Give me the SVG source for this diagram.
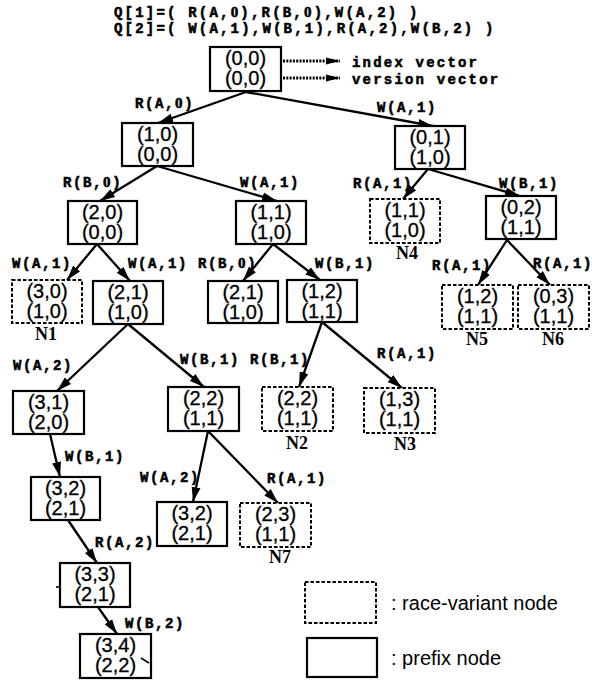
<svg xmlns="http://www.w3.org/2000/svg" width="592" height="681" viewBox="0 0 592 681">
<defs>
<style>
.bg{fill:#fff}
.box{fill:#fff;stroke:#000;stroke-width:2.2}
.rv{fill:#fff;stroke:#000;stroke-width:2;stroke-dasharray:3.5 2}
.nt{font-family:"Liberation Sans",Arial,sans-serif;font-size:20px;fill:#000;stroke:#000;stroke-width:0.3;text-anchor:middle}
.lb{font-family:"Liberation Mono","Courier New",monospace;font-size:14px;font-weight:bold;letter-spacing:1.6px;fill:#000;stroke:#000;stroke-width:0.55}
.q{font-family:"Liberation Mono","Courier New",monospace;font-size:14px;font-weight:bold;letter-spacing:2.2px;fill:#000;stroke:#000;stroke-width:0.55}
.z{font-family:"Liberation Serif","Times New Roman",serif;font-size:15px;font-weight:bold}
.nn{font-family:"Liberation Serif","Times New Roman",serif;font-size:18px;font-weight:bold;fill:#000;text-anchor:middle}
.lg{font-family:"Liberation Sans",Arial,sans-serif;font-size:20px;fill:#000}
.edge{stroke:#000;stroke-width:2.3;fill:none;marker-end:url(#ah)}
.dot{stroke:#000;stroke-width:2.8;fill:none;stroke-dasharray:2 1.3;marker-end:url(#ah2)}
.mark{stroke:#000;stroke-width:1.6;fill:none}
</style>
<marker id="ah" markerUnits="userSpaceOnUse" markerWidth="15" markerHeight="10" viewBox="0 0 15 10" refX="15" refY="5" orient="auto">
<path d="M0,0.5 L15,5 L0,9.5 z" fill="#000"/>
</marker>
<marker id="ah2" markerUnits="userSpaceOnUse" markerWidth="14" markerHeight="8" viewBox="0 0 14 8" refX="14" refY="4" orient="auto">
<path d="M0,0.5 L14,4 L0,7.5 z" fill="#000"/>
</marker>
</defs>
<rect class="bg" x="0" y="0" width="592" height="681"/>

<g id="queues">
<text class="q" x="114" y="17">Q[1]=( R(A,<tspan class="z">0</tspan>),R(B,<tspan class="z">0</tspan>),W(A,2) )</text>
<text class="q" x="114" y="33">Q[2]=( W(A,1),W(B,1),R(A,2),W(B,2) )</text>
</g>

<g id="connectors">
<line class="edge" x1="246" y1="92" x2="158" y2="123"/>
<line class="edge" x1="246" y1="92" x2="433" y2="126"/>
<line class="edge" x1="157" y1="166" x2="100" y2="201"/>
<line class="edge" x1="157" y1="166" x2="277" y2="201"/>
<line class="edge" x1="428" y1="169" x2="403" y2="199"/>
<line class="edge" x1="428" y1="169" x2="520" y2="196"/>
<line class="edge" x1="97" y1="244" x2="67" y2="280"/>
<line class="edge" x1="97" y1="244" x2="130" y2="281"/>
<line class="edge" x1="273" y1="244" x2="243" y2="281"/>
<line class="edge" x1="273" y1="244" x2="320" y2="280"/>
<line class="edge" x1="507" y1="240" x2="478" y2="285"/>
<line class="edge" x1="507" y1="240" x2="550" y2="285"/>
<line class="edge" x1="128" y1="324" x2="57" y2="391"/>
<line class="edge" x1="128" y1="324" x2="204" y2="387"/>
<line class="edge" x1="322" y1="322" x2="299" y2="387"/>
<line class="edge" x1="322" y1="322" x2="402" y2="388"/>
<line class="edge" x1="50" y1="434" x2="60" y2="477"/>
<line class="edge" x1="208" y1="431" x2="193" y2="502"/>
<line class="edge" x1="208" y1="431" x2="278" y2="503"/>
<line class="edge" x1="68" y1="520" x2="97" y2="563"/>
<line class="edge" x1="98" y1="607" x2="117" y2="634"/>
<line class="dot" x1="283" y1="61" x2="340" y2="61"/>
<line class="dot" x1="283" y1="78" x2="340" y2="78"/>
</g>

<g id="edge-labels">
<text class="lb" x="135" y="108">R(A,<tspan class="z">0</tspan>)</text>
<text class="lb" x="377" y="112">W(A,1)</text>
<text class="lb" x="63" y="187">R(B,<tspan class="z">0</tspan>)</text>
<text class="lb" x="240" y="187">W(A,1)</text>
<text class="lb" x="353" y="188">R(A,1)</text>
<text class="lb" x="499" y="188">W(B,1)</text>
<text class="lb" x="12" y="268">W(A,1)</text>
<text class="lb" x="128" y="268">W(A,1)</text>
<text class="lb" x="198" y="268">R(B,<tspan class="z">0</tspan>)</text>
<text class="lb" x="315" y="268">W(B,1)</text>
<text class="lb" x="432" y="270">R(A,1)</text>
<text class="lb" x="533" y="268">R(A,1)</text>
<text class="lb" x="13" y="370">W(A,2)</text>
<text class="lb" x="180" y="364">W(B,1)</text>
<text class="lb" x="250" y="364">R(B,1)</text>
<text class="lb" x="377" y="358">R(A,1)</text>
<text class="lb" x="65" y="461">W(B,1)</text>
<text class="lb" x="140" y="482">W(A,2)</text>
<text class="lb" x="267" y="483">R(A,1)</text>
<text class="lb" x="95" y="547">R(A,2)</text>
<text class="lb" x="125" y="628">W(B,2)</text>
</g>

<g id="annotations">
<text class="q" x="352" y="67">index vector</text>
<text class="q" x="352" y="84">version vector</text>
</g>

<g id="root"><rect class="box" x="210" y="47" width="71" height="44"/><text class="nt" x="245.5" y="65">(0,0)</text><text class="nt" x="245.5" y="85">(0,0)</text></g>
<g id="n10"><rect class="box" x="122" y="123" width="71" height="43"/><text class="nt" x="157.5" y="141">(1,0)</text><text class="nt" x="157.5" y="161">(0,0)</text></g>
<g id="n01"><rect class="box" x="395" y="126" width="70" height="43"/><text class="nt" x="430" y="144">(0,1)</text><text class="nt" x="430" y="164">(1,0)</text></g>
<g id="n20"><rect class="box" x="68" y="201" width="69" height="43"/><text class="nt" x="102.5" y="219">(2,0)</text><text class="nt" x="102.5" y="239">(0,0)</text></g>
<g id="n11"><rect class="box" x="236" y="201" width="70" height="43"/><text class="nt" x="271" y="219">(1,1)</text><text class="nt" x="271" y="239">(1,0)</text></g>
<g id="N4"><rect class="rv" x="370" y="199" width="70" height="44"/><text class="nt" x="405" y="217">(1,1)</text><text class="nt" x="405" y="237">(1,0)</text><text class="nn" x="407" y="259">N4</text></g>
<g id="n02"><rect class="box" x="486" y="196" width="70" height="43"/><text class="nt" x="521" y="214">(0,2)</text><text class="nt" x="521" y="234">(1,1)</text></g>
<g id="N1"><rect class="rv" x="12" y="280" width="70" height="43"/><text class="nt" x="47" y="298">(3,0)</text><text class="nt" x="47" y="318">(1,0)</text><text class="nn" x="46" y="340">N1</text></g>
<g id="n21a"><rect class="box" x="93" y="281" width="70" height="43"/><text class="nt" x="128" y="299">(2,1)</text><text class="nt" x="128" y="319">(1,0)</text></g>
<g id="n21b"><rect class="box" x="208" y="281" width="70" height="42"/><text class="nt" x="243" y="299">(2,1)</text><text class="nt" x="243" y="319">(1,0)</text></g>
<g id="n12"><rect class="box" x="287" y="280" width="70" height="42"/><text class="nt" x="322" y="298">(1,2)</text><text class="nt" x="322" y="318">(1,1)</text></g>
<g id="N5"><rect class="rv" x="442" y="285" width="71" height="44"/><text class="nt" x="477.5" y="303">(1,2)</text><text class="nt" x="477.5" y="323">(1,1)</text><text class="nn" x="477" y="345">N5</text></g>
<g id="N6"><rect class="rv" x="518" y="285" width="71" height="44"/><text class="nt" x="553.5" y="303">(0,3)</text><text class="nt" x="553.5" y="323">(1,1)</text><text class="nn" x="553" y="345">N6</text></g>
<g id="n31"><rect class="box" x="13" y="391" width="71" height="43"/><text class="nt" x="48.5" y="409">(3,1)</text><text class="nt" x="48.5" y="429">(2,0)</text></g>
<g id="n22"><rect class="box" x="168" y="387" width="71" height="44"/><text class="nt" x="203.5" y="405">(2,2)</text><text class="nt" x="203.5" y="425">(1,1)</text></g>
<g id="N2"><rect class="rv" x="262" y="387" width="71" height="44"/><text class="nt" x="297.5" y="405">(2,2)</text><text class="nt" x="297.5" y="425">(1,1)</text><text class="nn" x="297" y="449">N2</text></g>
<g id="N3"><rect class="rv" x="364" y="388" width="71" height="45"/><text class="nt" x="399.5" y="406">(1,3)</text><text class="nt" x="399.5" y="426">(1,1)</text><text class="nn" x="405" y="450">N3</text></g>
<g id="n32a"><rect class="box" x="31" y="477" width="69" height="43"/><text class="nt" x="65.5" y="495">(3,2)</text><text class="nt" x="65.5" y="515">(2,1)</text></g>
<g id="n32b"><rect class="box" x="157" y="502" width="70" height="44"/><text class="nt" x="192" y="520">(3,2)</text><text class="nt" x="192" y="540">(2,1)</text></g>
<g id="N7"><rect class="rv" x="240" y="503" width="71" height="44"/><text class="nt" x="275.5" y="521">(2,3)</text><text class="nt" x="275.5" y="541">(1,1)</text><text class="nn" x="280" y="563">N7</text></g>
<g id="n33"><rect class="box" x="60" y="563" width="70" height="44"/><text class="nt" x="95" y="581">(3,3)</text><text class="nt" x="95" y="601">(2,1)</text><line class="mark" x1="56" y1="587" x2="60" y2="587"/></g>
<g id="n34"><rect class="box" x="80" y="634" width="71" height="44"/><text class="nt" x="115.5" y="652">(3,4)</text><text class="nt" x="115.5" y="672">(2,2)</text><line class="mark" x1="141" y1="658" x2="149" y2="663"/></g>

<g id="legend">
<rect class="rv" x="305" y="582" width="71" height="41"/>
<text class="lg" x="391" y="610">: race-variant node</text>
<rect class="box" x="307" y="638" width="70" height="39"/>
<text class="lg" x="391" y="665">: prefix node</text>
</g>
</svg>
